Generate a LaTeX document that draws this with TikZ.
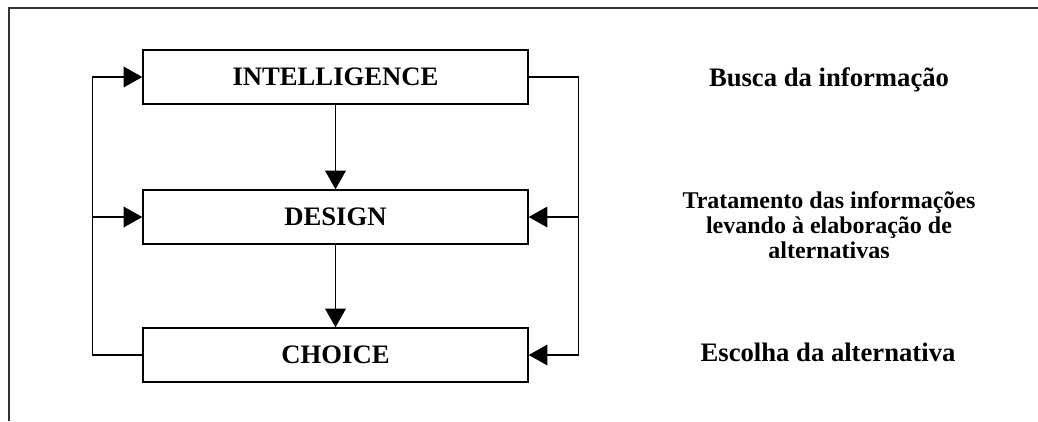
\documentclass[tikz,border=0pt]{standalone}
\usepackage{fontspec}
\setmainfont{Liberation Serif}
\usetikzlibrary{arrows.meta}
\tikzset{
  stage/.style={draw=black, line width=1.1pt, minimum width=288.75pt, minimum height=40.5pt, inner sep=0pt, font=\fontsize{20}{24}\selectfont\bfseries},
  flow/.style={line width=1.1pt, draw=black, -{Triangle[length=14pt,width=15.5pt]}},
  loopline/.style={line width=1.1pt, draw=black},
  note/.style={font=\fontsize{20}{24}\selectfont\bfseries, align=center},
  smallnote/.style={font=\fontsize{18}{18.75}\selectfont\bfseries, align=center},
  frameline/.style={line width=0.9pt, draw=black!80},
}

\begin{document}
\begin{tikzpicture}[x=0.75pt,y=-0.75pt]
\useasboundingbox (0,0) rectangle (1038,421);
\draw[frameline] (9,421) -- (9,8) -- (1038,8);
% the three phases
\node[stage] (intel) at (335.5,77) {INTELLIGENCE};
\node[stage] (design) at (335.5,217) {DESIGN};
\node[stage] (choice) at (335.5,355) {CHOICE};
\coordinate (lt) at ([xshift=-37.5pt]intel.west);
\coordinate (lm) at ([xshift=-37.5pt]design.west);
\coordinate (lb) at ([xshift=-37.5pt]choice.west);
\coordinate (rt) at ([xshift=37.5pt]intel.east);
\coordinate (rm) at ([xshift=37.5pt]design.east);
\coordinate (rb) at ([xshift=37.5pt]choice.east);
\draw[flow] (intel) -- (design);
\draw[flow] (design) -- (choice);
% feedback loops
\draw[loopline] (choice.west) -- (lb) -- (lt);
\draw[flow] (lt) -- (intel.west);
\draw[flow] (lm) -- (design.west);
\draw[loopline] (intel.east) -- (rt) -- (rb);
\draw[flow] (rm) -- (design.east);
\draw[flow] (rb) -- (choice.east);
% descriptions
\node[note] (busca) at (829,80) {Busca da informação};
\begin{scope}
\clip (600,170) rectangle (1038,257);
\node[smallnote] (trat) at (829,225) {Tratamento das informações\\levando à elaboração de\\alternativas};
\end{scope}
\node[note] (escolha) at (828,352) {Escolha da alternativa};
\end{tikzpicture}
\end{document}
